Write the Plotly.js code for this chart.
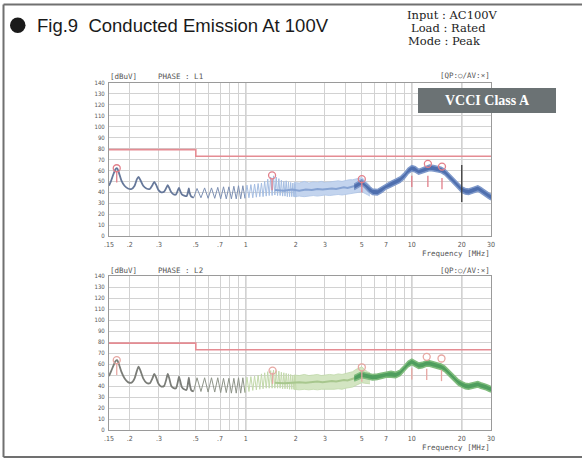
<!DOCTYPE html>
<html>
<head>
<meta charset="utf-8">
<script src="https://cdn.plot.ly/plotly-3.0.1.min.js"></script>
<style>html,body{margin:0;padding:0;background:#fff;}#chart{width:582px;height:462px;}</style>
</head>
<body>
<div id="chart"></div>
<script>
// ---------- tick labels ----------
const xTickVals = [0.15,0.2,0.3,0.4,0.5,0.6,0.7,0.8,0.9,1,2,3,4,5,6,7,8,9,10,20,30];
const xTickText = ['.15','.2','.3','','.5','','.7','','','1','2','3','','5','','7','','','10','20','30'];
const yTickVals = [0,10,20,30,40,50,60,70,80,90,100,110,120,130,140];

// ---------- limit line (VCCI Class A, QP) ----------
const limitF = [0.15, 0.5, 0.5, 30];
const limitV = [79, 79, 73, 73];

// ---------- PHASE L1 ----------
const L1_humpF = [0.150,0.154,0.159,0.164,0.168,0.172,0.178,0.186,0.195,0.205,0.214,0.221,0.226,0.232,0.241,0.252,0.264,0.274,0.281,0.288,0.298,0.310,0.322,0.332,0.339,0.346,0.356,0.368,0.380,0.390,0.396,0.402,0.412,0.425,0.440,0.450,0.454,0.458,0.470,0.485];
const L1_humpV = [46,50,56,61,62,58,51,46,43.5,43,46,52,54,51,46,43.5,43,46.5,49.5,47,42,40,40.5,44,46.5,44,40,38,38,42,44,41.5,38,37,36.5,41,43.5,40,36,35];

const L1_spikeF = [0.485,0.5085,0.537,0.565,0.593,0.6215,0.650,0.678,0.706,0.7345,0.763,0.791,0.819,0.8475,0.876,0.904,0.932,0.9605,0.989,1.017,1.045,1.0735,1.102,1.13,1.158,1.1865,1.215,1.243,1.271,1.2995,1.328,1.356,1.384,1.4125,1.441,1.469,1.497,1.5255,1.554,1.582,1.610,1.6385,1.667,1.695,1.723,1.7515,1.780,1.808,1.836,1.8645,1.893,1.921,1.949,1.9775,2.006];
const L1_spikeV = [35,43.5,35,44,34.5,44,34.5,44.5,34,45,34,45,34,45.5,34,46,34,46,34.5,46.5,35,47,35,47.5,35.5,48,36,48.5,36,50,36.5,52,37,54,37,55,37.5,54,37,52.5,37,51,36.5,50,36.5,50.5,36,49.5,36,49,36,48.5,36,48,35.5];

const bandF = [1.95,2.1,2.25,2.4,2.55,2.7,2.85,3.0,3.2,3.4,3.6,3.8,4.0,4.2,4.4,4.6,4.8,5.0,5.2,5.4,5.6];
const L1_bandTop = [49,48.5,50,48.5,49.5,49,50,49,49.5,50,50.5,50,51,51.5,51.5,52,53,53.5,51,48,46];
const L1_bandBot = [36,36.5,36,36.5,37,36.5,37,37.5,37,37.5,38,37.5,38,38.5,38.5,39,40,40.5,39,37.5,36.5];

const midF = [1.5,1.7,1.9,2.1,2.3,2.5,2.7,2.9,3.1,3.3,3.5,3.7,3.9,4.1,4.3,4.5,4.7];
const L1_midV = [42,41.5,42.5,41.5,42.5,42,43,42.5,43,43.5,43,44,44.5,44,45,45.5,46.5];

const coreF = [4.5,4.8,5.0,5.2,5.5,5.8,6.2,6.6,7.0,7.5,8.0,8.5,9.0,9.5,10,10.5,11,11.6,12.2,12.8,13.5,14.2,15,15.8,16.6,17.4,18.2,19,20,21,22,23,24,25,26,27,28,29,30];
const L1_coreTop = [47.5,49.5,51.5,49,45.5,43,42.5,45,48,50,52,54,57.5,62,64.5,63.5,61,62.5,64,65,64.5,63.5,63,61,58,55,51.5,48.5,45,43.5,43,44,45,46,44.5,42.5,40.5,39.5,38];
const L1_coreBot = [42.5,44.5,46.5,44.5,40.5,38,37.5,40,43,45,47,49,52.5,57,59.5,58.5,56.5,57.5,59,60,59.5,58.5,58,56,53,50,46.5,43.5,40,38.5,38,39,40,41,39.5,37.5,35.5,34.5,33];

const L1_qpF = [0.167,1.44,5.0,12.5,15.2];
const L1_qpV = [62,55.5,52,66,63.5];
const L1_avF = [0.167,1.44,5.0,10.0,12.5,15.2];
const L1_avV = [54,47,45,50,50,48];
const L1_cursorF = [20,20];
const L1_cursorV = [31,65];

// ---------- PHASE L2 ----------
const L2_humpF = [0.150,0.155,0.160,0.164,0.168,0.172,0.178,0.186,0.195,0.205,0.214,0.221,0.226,0.232,0.241,0.252,0.264,0.274,0.281,0.288,0.298,0.310,0.322,0.332,0.339,0.346,0.356,0.368,0.380,0.390,0.396,0.402,0.412,0.425,0.440,0.450,0.454,0.458,0.470,0.485];
const L2_humpV = [49,54,59,62.5,63.5,60,53,47,43.5,43,47,54,57.5,54,47,43,42.5,47,51,48,42,39.5,40,46,51,47,40,38,38,44,48.5,45,39,37,36.5,44,47.5,43,36,35];

const L2_spikeF = L1_spikeF;
const L2_spikeV = [35,47.5,35,47.5,34.5,47.5,34.5,47.5,34,47,34,47,33.5,47,33.5,47.5,33.5,47.5,34,48,35,48.5,36,49,36.5,50,37,51,37.5,52,38,53,38,54,38,54.5,38,54,38,53.5,38,52.5,37.5,52,37.5,51.5,37.5,51,37,50.5,37,50,37,50,37];

const L2_bandTop = [50,49.5,50.5,49.5,50,50.5,49.5,50,50.5,50,51,50.5,51.5,52,53,55,56.5,57.5,55,53,52];
const L2_bandBot = [37,36.5,37,36.5,37,36.5,37,37,36.5,37,37.5,37,38,38.5,39,40.5,42,43,42.5,42,42];
const L2_midV = [43,42.5,43,43.5,43,43.5,44,43.5,44,44.5,44,45,45.5,45,46,47,48];

const L2_coreTop = [49.5,51.5,53,52,51,50.5,51,52,53,53.5,52.5,54.5,58.5,62.5,64.5,63,61,61.5,63,63,62,61.5,60,58,55,51.5,48.5,46,44,42.5,42,42.5,43.5,44,43,42.5,41.5,40.5,39.5];
const L2_coreBot = [44.5,46.5,47.5,47,46,45.5,46,47,48,48,47.5,49.5,53.5,57.5,59.5,58,56,56.5,58,58,57,56.5,55,53,50,46.5,43.5,41,39,37.5,37,37.5,38.5,39,38,37.5,36.5,35.5,34.5];

const L2_qpF = [0.167,1.45,5.0,12.3,15.1];
const L2_qpV = [63.5,54,57,66.5,65];
const L2_avF = [0.167,1.45,5.0,10.0,12.3,15.1];
const L2_avV = [55,47,49,51,50.5,49.5];

// ---------- geometry helpers ----------
const W = 582, H = 462;
const PX = p => p / W;
const PY = p => 1 - p / H;

function phaseTraces(xa, ya, d, c) {
  const spA = {f: [], v: []}, spB = {f: [], v: []};
  d.spikeF.forEach((f, i) => {
    if (f <= 1.0) { spA.f.push(f); spA.v.push(d.spikeV[i]); }
    if (f >= 0.989) { spB.f.push(f); spB.v.push(d.spikeV[i]); }
  });
  const base = {xaxis: xa, yaxis: ya, mode: 'lines', hoverinfo: 'skip', showlegend: false};
  return [
    Object.assign({}, base, {x: limitF, y: limitV, line: {color: '#e58c93', width: 1.6}}),
    Object.assign({}, base, {x: bandF, y: d.bandBot, line: {color: c.bandEdge, width: 0.8}}),
    Object.assign({}, base, {x: bandF, y: d.bandTop, line: {color: c.bandEdge, width: 0.8}, fill: 'tonexty', fillcolor: c.band}),
    Object.assign({}, base, {x: spB.f, y: spB.v, line: {color: c.spikeB, width: 1}}),
    Object.assign({}, base, {x: spA.f, y: spA.v, line: {color: c.spikeA, width: 1}}),
    Object.assign({}, base, {x: midF, y: d.midV, line: {color: c.mid, width: 2}}),
    Object.assign({}, base, {x: d.humpF, y: d.humpV, line: {color: c.hump, width: 1.8, shape: 'spline', smoothing: 0.6}}),
    Object.assign({}, base, {x: coreF, y: d.coreBot, line: {color: c.coreEdge, width: 1.5}}),
    Object.assign({}, base, {x: coreF, y: d.coreTop, line: {color: c.coreEdge, width: 1.5}, fill: 'tonexty', fillcolor: c.core}),
    Object.assign({}, base, {x: d.avF, y: d.avV, mode: 'markers', marker: {symbol: 'line-ns-open', size: 8, color: c.mark, line: {color: c.mark, width: 1.3}}}),
    Object.assign({}, base, {x: d.qpF, y: d.qpV, mode: 'markers', marker: {symbol: 'circle-open', size: 7, color: c.mark, line: {color: c.mark, width: 1.3}}})
  ];
}

const data = []
  .concat(phaseTraces('x', 'y', {
    humpF: L1_humpF, humpV: L1_humpV, spikeF: L1_spikeF, spikeV: L1_spikeV,
    bandTop: L1_bandTop, bandBot: L1_bandBot, midV: L1_midV,
    coreTop: L1_coreTop, coreBot: L1_coreBot,
    qpF: L1_qpF, qpV: L1_qpV, avF: L1_avF, avV: L1_avV
  }, {hump: '#66789a', spikeA: '#7d90b3', spikeB: '#a4bde2', band: '#c3d4ee', bandEdge: '#adc4e6',
      mid: '#86a3d3', core: '#4f6fae', coreEdge: '#7f99ca', mark: '#e27f8a'}))
  .concat([{x: L1_cursorF, y: L1_cursorV, xaxis: 'x', yaxis: 'y', mode: 'lines',
            line: {color: '#3a3a3a', width: 1.3}, hoverinfo: 'skip', showlegend: false}])
  .concat(phaseTraces('x2', 'y2', {
    humpF: L2_humpF, humpV: L2_humpV, spikeF: L2_spikeF, spikeV: L2_spikeV,
    bandTop: L2_bandTop, bandBot: L2_bandBot, midV: L2_midV,
    coreTop: L2_coreTop, coreBot: L2_coreBot,
    qpF: L2_qpF, qpV: L2_qpV, avF: L2_avF, avV: L2_avV
  }, {hump: '#7b7d78', spikeA: '#8e9489', spikeB: '#c3d9ab', band: '#d3e5c2', bandEdge: '#bfd8a8',
      mid: '#a8c78e', core: '#4f9e5e', coreEdge: '#80bc7d', mark: '#e7a7a2'}));

function xAxis(anchor) {
  return {
    type: 'log', range: [Math.log10(0.15), Math.log10(30)], domain: [PX(109), PX(491)], anchor: anchor,
    tickmode: 'array', tickvals: xTickVals, ticktext: xTickText,
    showgrid: true, gridcolor: '#d2d2d2', gridwidth: 1,
    showline: true, mirror: true, linecolor: '#9a9a9a', linewidth: 1,
    ticks: 'outside', ticklen: 2, tickcolor: 'rgba(0,0,0,0)',
    tickfont: {family: 'DejaVu Sans Condensed, DejaVu Sans', size: 7, color: '#555'},
    zeroline: false, fixedrange: true
  };
}
function yAxis(domain, anchor) {
  return {
    range: [0, 140], domain: domain, anchor: anchor,
    tickmode: 'array', tickvals: yTickVals,
    showgrid: true, gridcolor: '#d2d2d2', gridwidth: 1,
    showline: true, mirror: true, linecolor: '#9a9a9a', linewidth: 1,
    ticks: 'outside', ticklen: 2, tickcolor: 'rgba(0,0,0,0)',
    tickfont: {family: 'DejaVu Sans Condensed, DejaVu Sans', size: 6, color: '#555'},
    zeroline: false, fixedrange: true
  };
}

const small = {family: 'DejaVu Sans Mono', size: 7.5, color: '#555'};
const serif = {family: 'DejaVu Serif', size: 11.5, color: '#222'};

function ann(text, x, y, xanchor, font) {
  return {text: text, x: PX(x), y: PY(y), xref: 'paper', yref: 'paper', xanchor: xanchor, yanchor: 'middle',
          showarrow: false, font: font, borderpad: 0};
}

const annotations = [
  ann('Fig.9\u00a0\u00a0Conducted Emission At 100V', 36, 26, 'left', {family: 'Liberation Sans, Arial', size: 18.5, color: '#1a1a1a'}),
  ann('Input : AC100V', 406, 15, 'left', serif),
  ann('Load : Rated', 409.5, 28, 'left', serif),
  ann('Mode : Peak', 407, 41, 'left', serif),
  ann('<b>VCCI Class A</b>', 487, 100.5, 'center', {family: 'Liberation Serif, Times New Roman', size: 14, color: '#ffffff'}),
  ann('[dBuV]', 109, 77, 'left', small), ann('PHASE : L1', 157, 77, 'left', small), ann('[QP:○/AV:×]', 491, 76, 'right', small),
  ann('Frequency [MHz]', 491, 253, 'right', small),
  ann('[dBuV]', 109, 270.5, 'left', small), ann('PHASE : L2', 157, 270.5, 'left', small), ann('[QP:○/AV:×]', 491, 270.5, 'right', small),
  ann('Frequency [MHz]', 491, 447, 'right', small)
];

const shapes = [
  // outer frame
  {type: 'line', xref: 'paper', yref: 'paper', x0: PX(3.5), x1: PX(3.5), y0: PY(4.5), y1: PY(457), line: {color: '#707070', width: 2}},
  {type: 'line', xref: 'paper', yref: 'paper', x0: PX(3.5), x1: PX(582), y0: PY(4.5), y1: PY(4.5), line: {color: '#707070', width: 2}},
  {type: 'line', xref: 'paper', yref: 'paper', x0: PX(3.5), x1: PX(582), y0: PY(457), y1: PY(457), line: {color: '#707070', width: 2}},
  // bullet
  {type: 'circle', xref: 'paper', yref: 'paper', x0: PX(10), x1: PX(25.5), y0: PY(17.5), y1: PY(33), fillcolor: '#1a1a1a', line: {width: 0}},
  // VCCI box
  {type: 'rect', xref: 'paper', yref: 'paper', x0: PX(418), x1: PX(556), y0: PY(88), y1: PY(113), fillcolor: '#6b7274', line: {width: 0}, layer: 'above'}
];
[1, 10, 20].forEach(f => {
  shapes.push({type: 'line', xref: 'x', yref: 'y domain', x0: f, x1: f, y0: 0, y1: 1, line: {color: '#8e8e8e', width: 1}, layer: 'below'});
  shapes.push({type: 'line', xref: 'x2', yref: 'y2 domain', x0: f, x1: f, y0: 0, y1: 1, line: {color: '#8e8e8e', width: 1}, layer: 'below'});
});

const layout = {
  width: W, height: H, margin: {l: 0, r: 0, t: 0, b: 0},
  paper_bgcolor: '#ffffff', plot_bgcolor: '#ffffff', showlegend: false,
  xaxis: xAxis('y'),
  yaxis: yAxis([PY(236), PY(83)], 'x'),
  xaxis2: xAxis('y2'),
  yaxis2: yAxis([PY(430), PY(276)], 'x2'),
  annotations: annotations, shapes: shapes
};

Plotly.newPlot('chart', data, layout, {staticPlot: true, displayModeBar: false});
</script>
</body>
</html>
